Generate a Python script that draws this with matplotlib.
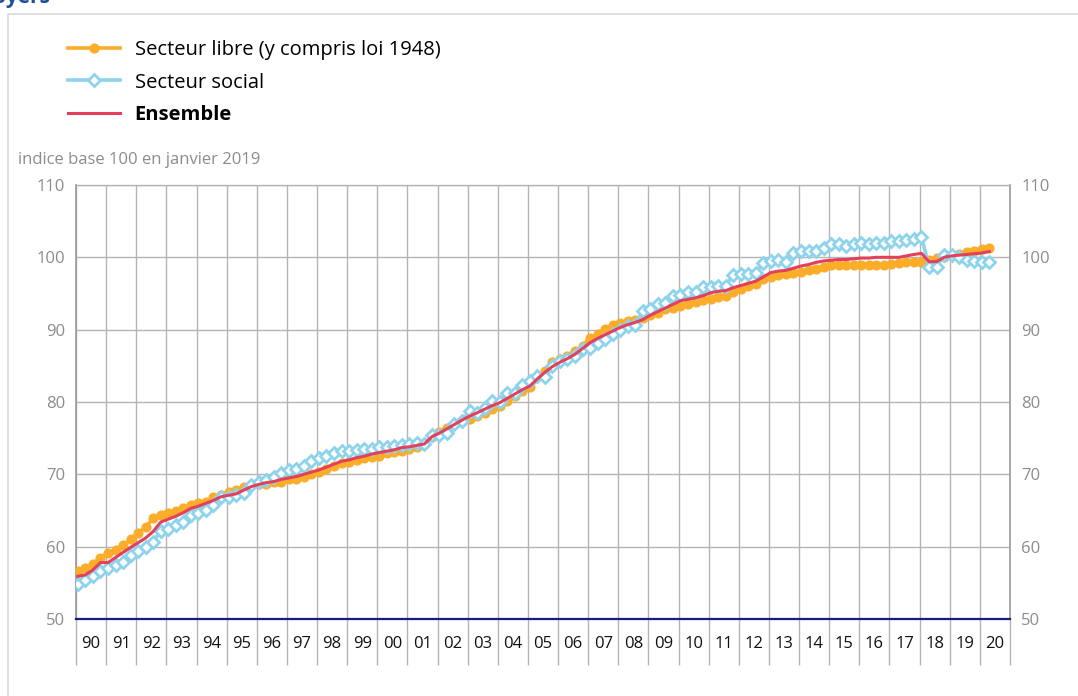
import matplotlib
matplotlib.use('Agg')
import matplotlib.pyplot as plt
import numpy as np

plt.rcParams['font.family'] = ['Open Sans', 'DejaVu Sans']

# quarterly indices, 1990 Q1 -> 2020 Q2 (one row = one year)
libre = [56.6, 57.0, 57.6, 58.5,
         59.1, 59.5, 60.2, 61.0,
         61.9, 62.7, 63.9, 64.4,
         64.7, 65.0, 65.3, 65.7,
         66.0, 66.2, 66.8, 67.2,
         67.6, 67.8, 68.3, 68.5,
         68.7, 68.7, 68.9, 69.0,
         69.3, 69.4, 69.6, 70.0,
         70.3, 70.8, 71.2, 71.6,
         71.7, 72.0, 72.2, 72.4,
         72.6, 72.9, 73.1, 73.2,
         73.5, 73.8, 74.2, 75.2,
         75.9, 76.4, 77.0, 77.4,
         77.7, 78.05, 78.5, 79.0,
         79.4, 80.2, 80.8, 81.5,
         82.1, 83.5, 84.3, 85.5,
         85.9, 86.4, 87.1, 87.8,
         88.9, 89.4, 90.1, 90.7,
         90.9, 91.2, 91.4, 91.6,
         92.0, 92.35, 92.8, 93.0,
         93.3, 93.5, 93.85, 94.1,
         94.2, 94.5, 94.7, 95.2,
         95.6, 96.1, 96.3, 97.0,
         97.3, 97.5, 97.75, 97.8,
         98.0, 98.2, 98.45, 98.7,
         98.9, 98.9, 98.9, 99.0,
         99.0, 99.0, 99.0, 99.0,
         99.1, 99.2, 99.3, 99.3,
         99.4, 99.6, 99.9, 100.1,
         100.3, 100.5, 100.7, 100.9,
         101.2, 101.3]

social = [54.9, 55.4, 56.0, 56.65,
          57.1, 57.5, 57.9, 58.85,
          59.4, 60.0, 60.7, 62.2,
          62.5, 63.0, 63.4, 64.4,
          64.6, 65.1, 65.7, 66.9,
          66.9, 67.1, 67.4, 68.5,
          68.9, 69.2, 69.6, 70.2,
          70.55, 70.8, 71.2, 71.9,
          72.2, 72.6, 72.9, 73.2,
          73.2, 73.4, 73.5, 73.5,
          73.8, 73.8, 73.9, 74.0,
          74.2, 74.3, 74.2, 75.4,
          75.4, 75.7, 76.9, 77.4,
          78.8, 78.5, 79.2, 80.1,
          80.0, 81.2, 81.3, 82.4,
          82.9, 83.6, 83.4, 85.0,
          85.7, 85.9, 86.4, 87.3,
          87.5, 88.2, 88.7, 89.4,
          89.9, 90.5, 90.7, 92.6,
          92.8, 93.6, 93.75, 94.7,
          94.8, 95.2, 95.2, 95.9,
          95.9, 96.1, 96.1, 97.5,
          97.65, 97.75, 97.8, 99.25,
          99.5, 99.6, 99.4, 100.65,
          100.9, 100.9, 100.9, 101.25,
          101.9, 101.8, 101.5, 101.8,
          102.05, 101.9, 102.0, 102.0,
          102.3, 102.3, 102.4, 102.5,
          102.85, 98.7, 98.7, 100.3,
          100.3, 100.1, 99.7, 99.5,
          99.4, 99.3]

ensemble = [55.9, 56.1, 56.8, 57.8,
            57.8, 58.5, 59.2, 59.9,
            60.55, 61.2, 62.1, 63.4,
            63.8, 64.2, 64.7, 65.3,
            65.6, 66.0, 66.4, 66.9,
            67.1, 67.3, 67.8, 68.3,
            68.6, 68.85, 69.0, 69.3,
            69.5, 69.7, 70.0, 70.3,
            70.6, 71.0, 71.4, 71.8,
            72.0, 72.3, 72.5, 72.8,
            73.0, 73.2, 73.4, 73.7,
            73.8, 74.0, 74.2, 75.2,
            75.7, 76.3, 76.9, 77.5,
            78.05, 78.5, 79.0, 79.5,
            79.9, 80.5, 81.1, 81.7,
            82.2, 83.2, 84.1, 84.9,
            85.5, 86.0, 86.6, 87.4,
            88.2, 88.8, 89.3, 89.8,
            90.3, 90.7, 91.0, 91.4,
            92.0, 92.5, 93.0, 93.5,
            94.0, 94.2, 94.4, 94.7,
            95.1, 95.3, 95.4, 95.8,
            96.1, 96.4, 96.7, 97.3,
            97.9, 98.1, 98.2, 98.5,
            98.8, 99.0, 99.3, 99.5,
            99.6, 99.7, 99.7, 99.8,
            99.9, 99.9, 100.0, 100.0,
            100.0, 100.0, 100.2, 100.4,
            100.55, 99.4, 99.4, 100.0,
            100.2, 100.3, 100.4, 100.5,
            100.6, 100.8]

years = list(range(1990, 2021))
year_labels = ['%02d' % (y % 100) for y in years]
yticks = [50, 60, 70, 80, 90, 100, 110]

n = len(libre)
t = 1990 + (np.arange(n) + 0.25) / 4.0

ORANGE = '#fbad2a'
BLUE = '#8ed3ec'
RED = '#e2405c'
GRID = '#b4b4b4'
GREY_TXT = '#8c8c8c'

fig = plt.figure(figsize=(10.78, 6.96), dpi=100)

# outer frame (only left and top edges visible)
fig.patches.append(plt.Rectangle((8 / 1078, -0.1), 1.2, 1.1 - 14 / 696,
                                 transform=fig.transFigure, fill=False,
                                 edgecolor='#d9d9d9', lw=1.2))
fig.text(-0.012, 1.003, 'loyers', color='#1f4e9a', fontsize=15,
         fontweight='bold', va='center', ha='left')

ax = fig.add_axes([76 / 1078, 1 - 619 / 696, (1010 - 76) / 1078, (619 - 185) / 696])

ax.plot(t, libre, color=ORANGE, lw=2.6, marker='o', ms=6.3, mec=ORANGE,
        mfc=ORANGE, zorder=3, label='Secteur libre (y compris loi 1948)')
ax.plot(t, social, color=BLUE, lw=2.6, marker='D', ms=5.8, mec=BLUE,
        mfc='white', mew=2, zorder=4, label='Secteur social')
ax.plot(t, ensemble, color=RED, lw=2.2, zorder=5, label='Ensemble')

ax.set_xlim(1990, 2021)
ax.set_ylim(50, 110)

# year separators extend below the axis as long ticks
ax.set_xticks(list(years) + [2021])
ax.set_xticklabels([])
ax.set_xticks([y + 0.5 for y in years], minor=True)
ax.set_xticklabels(year_labels, minor=True)
ax.tick_params(axis='x', which='major', length=33, width=1, color=GRID, direction='out')
ax.tick_params(axis='x', which='minor', length=0, pad=12, labelsize=12, labelcolor='#111111')
ax.grid(axis='x', which='major', color=GRID, lw=1)

ax.set_yticks(yticks)
ax.tick_params(axis='y', which='both', length=0, labelsize=12, labelcolor=GREY_TXT,
               labelleft=True, labelright=True, pad=8)
ax.grid(axis='y', color=GRID, lw=1)
ax.set_axisbelow(True)

for side in ['left', 'right']:
    ax.spines[side].set_color('#999999')
    ax.spines[side].set_linewidth(1.2)
ax.spines['top'].set_color(GRID)
ax.spines['top'].set_linewidth(1)
ax.spines['bottom'].set_color('#1a1a80')
ax.spines['bottom'].set_linewidth(1.6)
ax.spines['bottom'].set_zorder(6)

fig.text(18 / 1078, 1 - 160 / 696, 'indice base 100 en janvier 2019',
         color=GREY_TXT, fontsize=12, va='center', ha='left')

leg = fig.legend(loc='upper left', bbox_to_anchor=(60 / 1078, 1 - 32 / 696),
                 frameon=False, fontsize=14.5, handlelength=2.6,
                 labelspacing=0.62, handletextpad=0.7, borderaxespad=0)
for txt in leg.get_texts():
    if txt.get_text() == 'Ensemble':
        txt.set_fontweight('bold')

fig.savefig('out.png', dpi=100)
